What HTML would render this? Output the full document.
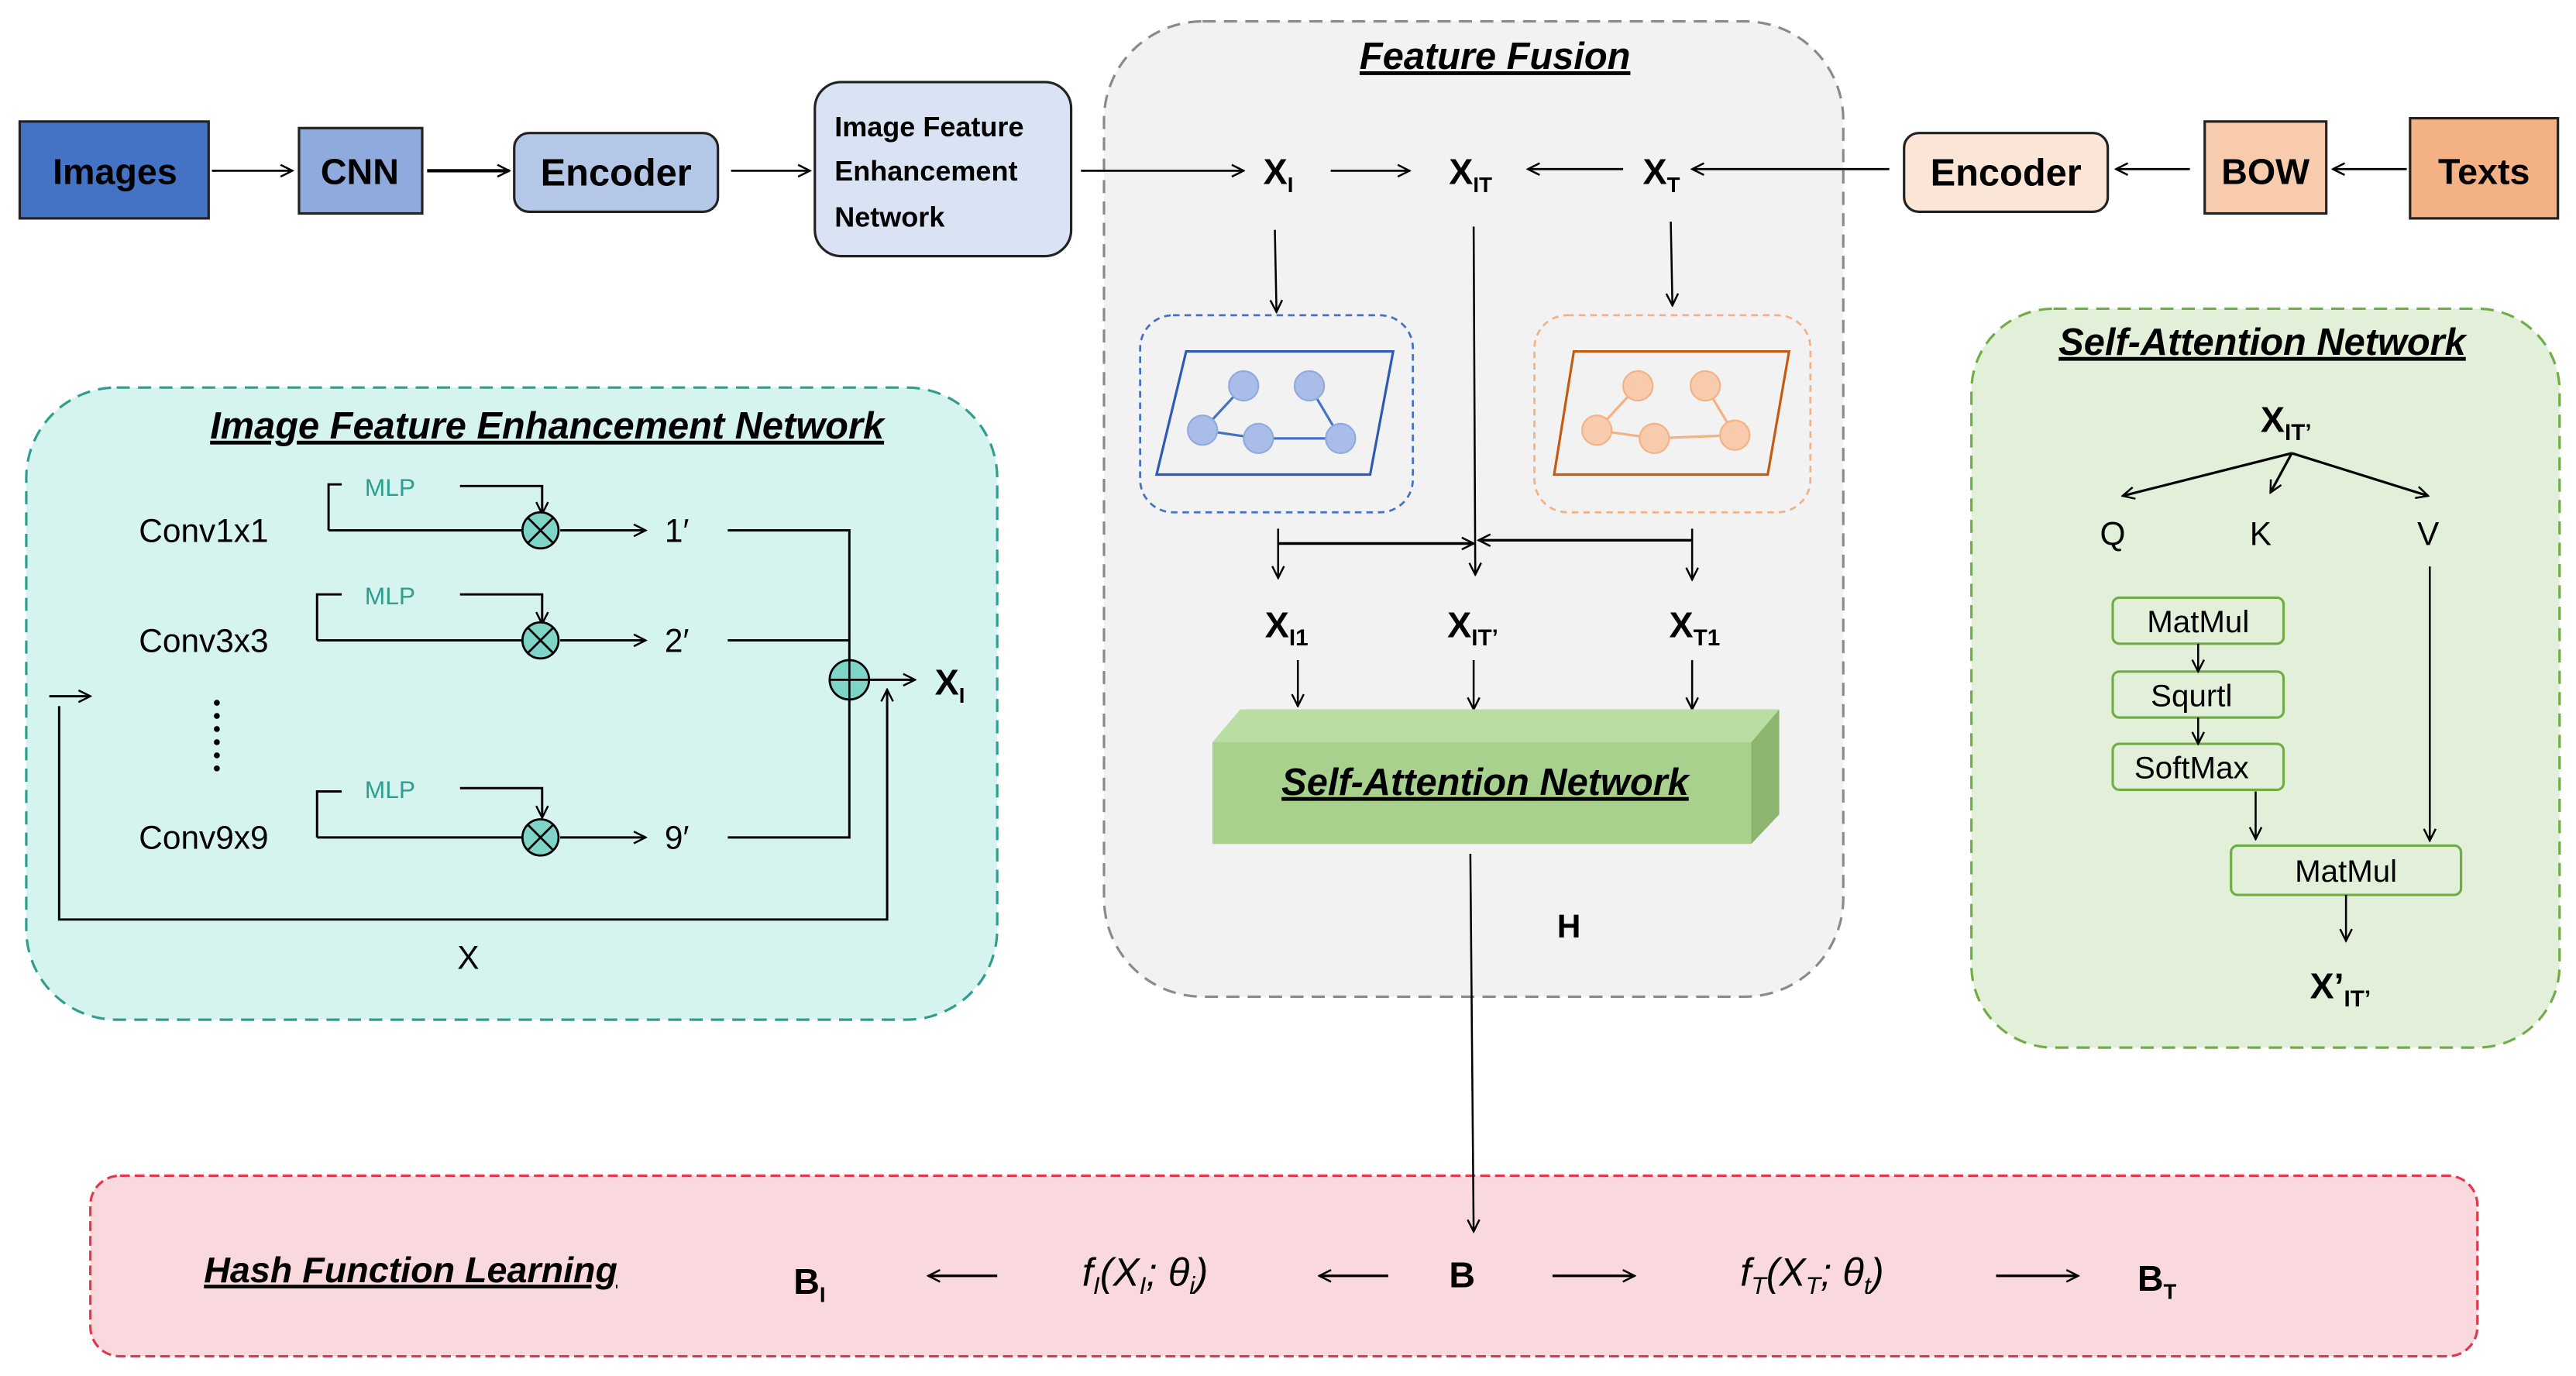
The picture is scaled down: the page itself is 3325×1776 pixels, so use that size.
<!DOCTYPE html>
<html><head><meta charset="utf-8"><style>
html,body{margin:0;padding:0;background:#fff;}
svg{display:block;}
text{font-family:"Liberation Sans",sans-serif;}
</style></head><body>
<svg width="3325" height="1776" viewBox="0 0 1568 838" preserveAspectRatio="none" xmlns="http://www.w3.org/2000/svg">
<defs>
<marker id="a" viewBox="0 0 10 10" refX="9" refY="5" markerWidth="9" markerHeight="9" orient="auto" markerUnits="userSpaceOnUse">
<path d="M1,1 L9,5 L1,9" fill="none" stroke="#000" stroke-width="1.3"/></marker>
</defs>
<rect width="1568" height="838" fill="#fff"/>

<!-- Feature Fusion panel -->
<rect x="672" y="13" width="450" height="594" rx="60" fill="#F2F2F2" stroke="#8a8a8a" stroke-width="1.5" stroke-dasharray="8,5"/>
<text x="910" y="42" font-size="23" font-weight="bold" font-style="italic" text-anchor="middle" text-decoration="underline">Feature Fusion</text>

<!-- IFEN panel -->
<rect x="16" y="236" width="591" height="385" rx="55" fill="#D5F3EF" stroke="#2E9E8E" stroke-width="1.5" stroke-dasharray="8,5"/>
<text x="333" y="267" font-size="23" font-weight="bold" font-style="italic" text-anchor="middle" text-decoration="underline">Image Feature Enhancement Network</text>

<!-- SAN panel -->
<rect x="1200" y="188" width="358" height="450" rx="50" fill="#E2F0D9" stroke="#70AD47" stroke-width="1.5" stroke-dasharray="8,5"/>
<text x="1377" y="216" font-size="23" font-weight="bold" font-style="italic" text-anchor="middle" text-decoration="underline">Self-Attention Network</text>

<!-- Hash panel -->
<rect x="55" y="716" width="1453" height="110" rx="18" fill="#F9D9DE" stroke="#E0394F" stroke-width="1.5" stroke-dasharray="6,3"/>

<!-- top row -->
<rect x="12" y="74" width="115" height="59" fill="#4472C4" stroke="#222" stroke-width="1.5"/>
<text x="70" y="112" font-size="22" font-weight="bold" text-anchor="middle">Images</text>
<line x1="129" y1="104" x2="178" y2="104" stroke="#000" stroke-width="1.3" marker-end="url(#a)"/>
<rect x="182" y="78" width="75" height="52" fill="#8FAADC" stroke="#222" stroke-width="1.5"/>
<text x="219" y="112" font-size="22" font-weight="bold" text-anchor="middle">CNN</text>
<line x1="260" y1="104" x2="310" y2="104" stroke="#000" stroke-width="2" marker-end="url(#a)"/>
<rect x="313" y="81" width="124" height="48" rx="9" fill="#B4C7E7" stroke="#222" stroke-width="1.5"/>
<text x="375" y="113" font-size="23" font-weight="bold" text-anchor="middle">Encoder</text>
<line x1="445" y1="104" x2="493" y2="104" stroke="#000" stroke-width="1.3" marker-end="url(#a)"/>
<rect x="496" y="50" width="156" height="106" rx="16" fill="#DAE3F3" stroke="#222" stroke-width="1.5"/>
<text x="508" y="83" font-size="17" font-weight="bold">Image Feature</text>
<text x="508" y="110" font-size="17" font-weight="bold">Enhancement</text>
<text x="508" y="138" font-size="17" font-weight="bold">Network</text>
<line x1="658" y1="104" x2="757" y2="104" stroke="#000" stroke-width="1.3" marker-end="url(#a)"/>

<text x="769" y="112" font-size="22" font-weight="bold">X<tspan font-size="13" dy="5">I</tspan></text>
<text x="882" y="112" font-size="22" font-weight="bold">X<tspan font-size="13" dy="5">IT</tspan></text>
<text x="1000" y="112" font-size="22" font-weight="bold">X<tspan font-size="13" dy="5">T</tspan></text>
<line x1="810" y1="104" x2="858" y2="104" stroke="#000" stroke-width="1.3" marker-end="url(#a)"/>
<line x1="988" y1="103" x2="930" y2="103" stroke="#000" stroke-width="1.3" marker-end="url(#a)"/>
<line x1="1150" y1="103" x2="1030" y2="103" stroke="#000" stroke-width="1.3" marker-end="url(#a)"/>

<rect x="1159" y="81" width="124" height="48" rx="9" fill="#FBE5D6" stroke="#222" stroke-width="1.5"/>
<text x="1221" y="113" font-size="23" font-weight="bold" text-anchor="middle">Encoder</text>
<line x1="1333" y1="103" x2="1288" y2="103" stroke="#000" stroke-width="1.3" marker-end="url(#a)"/>
<rect x="1342" y="74" width="74" height="56" fill="#F8CBAD" stroke="#222" stroke-width="1.5"/>
<text x="1379" y="112" font-size="22" font-weight="bold" text-anchor="middle">BOW</text>
<line x1="1465" y1="103" x2="1420" y2="103" stroke="#000" stroke-width="1.3" marker-end="url(#a)"/>
<rect x="1467" y="72" width="90" height="61" fill="#F4B183" stroke="#222" stroke-width="1.5"/>
<text x="1512" y="112" font-size="22" font-weight="bold" text-anchor="middle">Texts</text>

<!-- down arrows -->
<line x1="776" y1="140" x2="777" y2="190" stroke="#000" stroke-width="1.2" marker-end="url(#a)"/>
<line x1="1017" y1="135" x2="1018" y2="186" stroke="#000" stroke-width="1.2" marker-end="url(#a)"/>
<line x1="897" y1="138" x2="898" y2="350" stroke="#000" stroke-width="1.2" marker-end="url(#a)"/>

<!-- graphs -->
<rect x="694" y="192" width="166" height="120" rx="20" fill="none" stroke="#4472C4" stroke-width="1.3" stroke-dasharray="4,3"/>
<polygon points="722,214 848,214 834,289 704,289" fill="none" stroke="#2F5AB3" stroke-width="1.5"/>
<g stroke="#4472C4" stroke-width="1.5"><line x1="757" y1="235" x2="732" y2="262"/><line x1="732" y1="262" x2="766" y2="267"/><line x1="766" y1="267" x2="816" y2="267"/><line x1="797" y1="235" x2="816" y2="267"/></g>
<g fill="#AABDE8" stroke="#8FAADC"><circle cx="757" cy="235" r="9"/><circle cx="797" cy="235" r="9"/><circle cx="732" cy="262" r="9"/><circle cx="766" cy="267" r="9"/><circle cx="816" cy="267" r="9"/></g>
<rect x="934" y="192" width="168" height="120" rx="20" fill="none" stroke="#F4B183" stroke-width="1.3" stroke-dasharray="4,3"/>
<polygon points="958,214 1089,214 1076,289 946,289" fill="none" stroke="#C55A11" stroke-width="1.5"/>
<g stroke="#F4B183" stroke-width="1.5"><line x1="997" y1="235" x2="972" y2="262"/><line x1="972" y1="262" x2="1007" y2="267"/><line x1="1007" y1="267" x2="1056" y2="265"/><line x1="1038" y1="235" x2="1056" y2="265"/></g>
<g fill="#F8CBAD" stroke="#F4B183"><circle cx="997" cy="235" r="9"/><circle cx="1038" cy="235" r="9"/><circle cx="972" cy="262" r="9"/><circle cx="1007" cy="267" r="9"/><circle cx="1056" cy="265" r="9"/></g>

<!-- bracket -->
<line x1="778" y1="331" x2="897" y2="331" stroke="#000" stroke-width="1.6" marker-end="url(#a)"/>
<line x1="1030" y1="329" x2="900" y2="329" stroke="#000" stroke-width="1.6" marker-end="url(#a)"/>
<line x1="778" y1="322" x2="778" y2="352" stroke="#000" stroke-width="1.2" marker-end="url(#a)"/>
<line x1="1030" y1="322" x2="1030" y2="353" stroke="#000" stroke-width="1.2" marker-end="url(#a)"/>

<text x="770" y="388" font-size="22" font-weight="bold">X<tspan font-size="14" dy="5">I1</tspan></text>
<text x="881" y="388" font-size="22" font-weight="bold">X<tspan font-size="14" dy="5">IT’</tspan></text>
<text x="1016" y="388" font-size="22" font-weight="bold">X<tspan font-size="14" dy="5">T1</tspan></text>
<line x1="790" y1="402" x2="790" y2="430" stroke="#000" stroke-width="1.2" marker-end="url(#a)"/>
<line x1="897" y1="402" x2="897" y2="432" stroke="#000" stroke-width="1.2" marker-end="url(#a)"/>
<line x1="1030" y1="402" x2="1030" y2="432" stroke="#000" stroke-width="1.2" marker-end="url(#a)"/>

<!-- 3D box -->
<polygon points="738,452 755,432 1083,432 1066,452" fill="#BADDA3"/>
<polygon points="1066,452 1083,432 1083,496 1066,514" fill="#8DB56F"/>
<rect x="738" y="452" width="328" height="62" fill="#A9D18E"/>
<text x="904" y="484" font-size="23" font-weight="bold" font-style="italic" text-anchor="middle" text-decoration="underline">Self-Attention Network</text>

<line x1="895" y1="520" x2="897" y2="750" stroke="#000" stroke-width="1.2" marker-end="url(#a)"/>
<text x="955" y="571" font-size="20" font-weight="bold" text-anchor="middle">H</text>

<!-- IFEN internals -->
<g font-size="20">
<text x="124" y="330" text-anchor="middle">Conv1x1</text>
<text x="124" y="397" text-anchor="middle">Conv3x3</text>
<text x="124" y="517" text-anchor="middle">Conv9x9</text>
<text x="412" y="330" text-anchor="middle">1′</text>
<text x="412" y="397" text-anchor="middle">2′</text>
<text x="412" y="517" text-anchor="middle">9′</text>
<text x="285" y="590" text-anchor="middle">X</text>
</g>
<g fill="#000"><circle cx="132" cy="428" r="1.8"/><circle cx="132" cy="436" r="1.8"/><circle cx="132" cy="444" r="1.8"/><circle cx="132" cy="452" r="1.8"/><circle cx="132" cy="460" r="1.8"/><circle cx="132" cy="468" r="1.8"/></g>
<g stroke="#000" stroke-width="1.4" fill="none">
<path d="M200,323 V295 H208"/><path d="M280,296 H330 V313" marker-end="url(#a)"/>
<line x1="200" y1="323" x2="318" y2="323"/><line x1="341" y1="323" x2="393" y2="323" marker-end="url(#a)"/>
<path d="M193,390 V362 H208"/><path d="M280,362 H330 V380" marker-end="url(#a)"/>
<line x1="193" y1="390" x2="318" y2="390"/><line x1="341" y1="390" x2="393" y2="390" marker-end="url(#a)"/>
<path d="M193,510 V482 H208"/><path d="M280,480 H330 V498" marker-end="url(#a)"/>
<line x1="193" y1="510" x2="318" y2="510"/><line x1="341" y1="510" x2="393" y2="510" marker-end="url(#a)"/>
<path d="M443,323 H517 V510 H443"/><line x1="443" y1="390" x2="517" y2="390"/>
<path d="M36,430 V560 H540 V420" marker-end="url(#a)"/>
<line x1="30" y1="424" x2="55" y2="424" marker-end="url(#a)"/>
<line x1="529" y1="414" x2="557" y2="414" marker-end="url(#a)"/>
</g>
<g fill="#2E9E8E" font-size="15"><text x="222" y="302">MLP</text><text x="222" y="368">MLP</text><text x="222" y="486">MLP</text></g>
<g stroke="#000" stroke-width="1.3" fill="#7FD4C8">
<circle cx="329" cy="323" r="11"/><circle cx="329" cy="390" r="11"/><circle cx="329" cy="510" r="11"/>
<circle cx="517" cy="414" r="12"/>
</g>
<g stroke="#000" stroke-width="1.3">
<path d="M321,315 L337,331 M337,315 L321,331"/><path d="M321,382 L337,398 M337,382 L321,398"/><path d="M321,502 L337,518 M337,502 L321,518"/>
<path d="M505,414 H529 M517,402 V426"/>
</g>
<text x="569" y="423" font-size="22" font-weight="bold">X<tspan font-size="13" dy="5">I</tspan></text>

<!-- SAN internals -->
<text x="1376" y="263" font-size="22" font-weight="bold">X<tspan font-size="14" dy="5">IT’</tspan></text>
<g stroke="#000" stroke-width="1.5" fill="none">
<line x1="1395" y1="276" x2="1292" y2="302" marker-end="url(#a)"/>
<line x1="1395" y1="276" x2="1382" y2="300" marker-end="url(#a)"/>
<line x1="1395" y1="276" x2="1478" y2="302" marker-end="url(#a)"/>
</g>
<g font-size="20" text-anchor="middle"><text x="1286" y="332">Q</text><text x="1376" y="332">K</text><text x="1478" y="332">V</text></g>
<g fill="#E2F0D9" stroke="#70AD47" stroke-width="1.5">
<rect x="1286" y="364" width="104" height="28" rx="4"/><rect x="1286" y="409" width="104" height="28" rx="4"/><rect x="1286" y="453" width="104" height="28" rx="4"/>
<rect x="1358" y="515" width="140" height="30" rx="4"/>
</g>
<g font-size="19" text-anchor="middle"><text x="1338" y="385">MatMul</text><text x="1334" y="430">Squrtl</text><text x="1334" y="474">SoftMax</text><text x="1428" y="537">MatMul</text></g>
<g stroke="#000" stroke-width="1.2">
<line x1="1338" y1="392" x2="1338" y2="409" marker-end="url(#a)"/>
<line x1="1338" y1="437" x2="1338" y2="453" marker-end="url(#a)"/>
<line x1="1373" y1="482" x2="1373" y2="511" marker-end="url(#a)"/>
<line x1="1479" y1="345" x2="1479" y2="512" marker-end="url(#a)"/>
<line x1="1428" y1="545" x2="1428" y2="573" marker-end="url(#a)"/>
</g>
<text x="1406" y="608" font-size="22" font-weight="bold">X’<tspan font-size="14" dy="5">IT’</tspan></text>

<!-- Hash -->
<text x="250" y="781" font-size="22" font-weight="bold" font-style="italic" text-anchor="middle" text-decoration="underline">Hash Function Learning</text>
<text x="483" y="788" font-size="22" font-weight="bold">B<tspan font-size="13" dy="5">I</tspan></text>
<text x="697" y="783" font-size="24" font-style="italic" text-anchor="middle" font-family="Liberation Serif, serif">f<tspan font-size="15" dy="5">I</tspan><tspan dy="-5">(X</tspan><tspan font-size="15" dy="5">I</tspan><tspan dy="-5">; θ</tspan><tspan font-size="15" dy="5">i</tspan><tspan dy="-5">)</tspan></text>
<text x="890" y="784" font-size="22" font-weight="bold" text-anchor="middle">B</text>
<text x="1103" y="783" font-size="24" font-style="italic" text-anchor="middle" font-family="Liberation Serif, serif">f<tspan font-size="15" dy="5">T</tspan><tspan dy="-5">(X</tspan><tspan font-size="15" dy="5">T</tspan><tspan dy="-5">; θ</tspan><tspan font-size="15" dy="5">t</tspan><tspan dy="-5">)</tspan></text>
<text x="1301" y="786" font-size="22" font-weight="bold">B<tspan font-size="13" dy="5">T</tspan></text>
<g stroke="#000" stroke-width="1.6">
<line x1="607" y1="777" x2="565" y2="777" marker-end="url(#a)"/>
<line x1="845" y1="777" x2="803" y2="777" marker-end="url(#a)"/>
<line x1="945" y1="777" x2="995" y2="777" marker-end="url(#a)"/>
<line x1="1215" y1="777" x2="1265" y2="777" marker-end="url(#a)"/>
</g>
</svg>
</body></html>
